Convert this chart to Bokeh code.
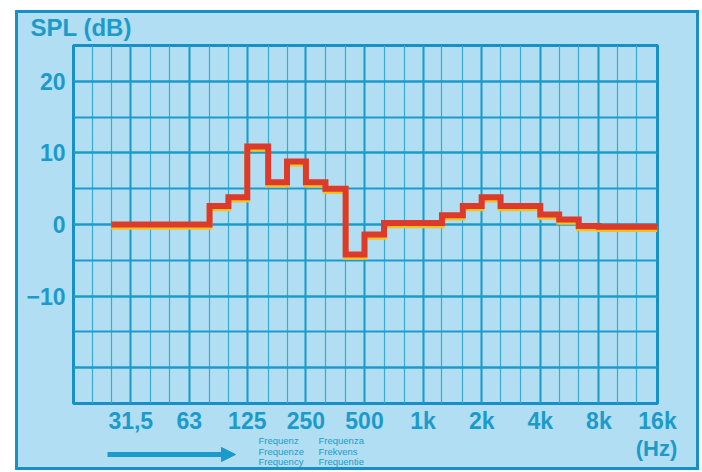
from bokeh.plotting import figure
from bokeh.layouts import column, row
from bokeh.models import FixedTicker, Arrow, NormalHead, Range1d, Spacer
from bokeh.core.properties import value
from bokeh.embed import file_html
from bokeh.resources import INLINE

# third-octave band edges (Hz) and the level of each band (dB)
band_edges_hz = [25, 31.5, 40, 50, 63, 80, 100, 125, 160, 200, 250, 315, 400, 500,
                 630, 800, 1000, 1250, 1600, 2000, 2500, 3150, 4000, 5000, 6300,
                 8000, 10000, 12500, 16000]
band_levels_db = [0.0, 0.0, 0.0, 0.0, 0.0, 2.6, 3.8, 10.9, 5.9, 8.8, 5.9, 5.0, -4.2,
                  -1.4, 0.2, 0.2, 0.2, 1.3, 2.6, 3.8, 2.6, 2.6, 1.4, 0.7, -0.2,
                  -0.3, -0.3, -0.3]

octave_ticks = [31.5, 63, 125, 250, 500, 1000, 2000, 4000, 8000, 16000]
octave_labels = ["31,5", "63", "125", "250", "500", "1k", "2k", "4k", "8k", "16k"]
third_octave_grid = [16, 20, 25, 31.5, 40, 50, 63, 80, 100, 125, 160, 200, 250, 315,
                     400, 500, 630, 800, 1000, 1250, 1600, 2000, 2500, 3150, 4000,
                     5000, 6300, 8000, 10000, 12500, 16000]
y_ticks = [-20, -10, 0, 10, 20]
y_labels = ["", "\u221210", "0", "10", "20"]
y_grid = [-25, -20, -15, -10, -5, 0, 5, 10, 15, 20, 25]

title_text = "SPL (dB)"
unit_text = "(Hz)"
freq_words_1 = ["Frequenz", "Frequenze", "Frequency"]
freq_words_2 = ["Frequenza", "Frekvens", "Frequentie"]

BG = "#b1def2"
BLUE = "#1c9bcb"
MINOR = "#3aa9d4"
DARK = "#1790c6"
FONT = "Liberation Sans"
W = 678


def no_align(fig):
    try:
        fig.frame_align = False
    except Exception:
        pass


def strip(height):
    s = figure(width=W, height=height, x_range=Range1d(0, W),
               y_range=Range1d(height, 0), output_backend="svg",
               toolbar_location=None, x_axis_location=None, y_axis_location=None,
               min_border=0)
    s.background_fill_color = BG
    s.border_fill_color = BG
    s.outline_line_color = None
    s.grid.visible = False
    no_align(s)
    return s


# top strip with the axis title
top = strip(29)
top.text(x=[12], y=[14], text=[title_text], text_color=BLUE, text_font=value(FONT),
         text_font_style="bold", text_font_size="24px", text_baseline="middle",
         text_align="left")

# main chart
p = figure(width=W, height=394, x_axis_type="log",
           x_range=Range1d(16, 16000), y_range=Range1d(-25, 25),
           output_backend="svg", toolbar_location=None,
           min_border_left=55, min_border_right=39, min_border_top=3,
           min_border_bottom=32)
no_align(p)
p.background_fill_color = BG
p.border_fill_color = BG
p.outline_line_color = DARK
p.outline_line_width = 3

p.xaxis.ticker = FixedTicker(ticks=octave_ticks, minor_ticks=third_octave_grid)
p.xaxis.major_label_overrides = {t: l for t, l in zip(octave_ticks, octave_labels)}
p.yaxis.ticker = FixedTicker(ticks=y_ticks, minor_ticks=y_grid)
p.yaxis.major_label_overrides = {t: l for t, l in zip(y_ticks, y_labels)}
for ax in (p.xaxis[0], p.yaxis[0]):
    ax.axis_line_color = None
    ax.major_tick_line_color = None
    ax.minor_tick_line_color = None
    ax.major_tick_out = 0
    ax.major_tick_in = 0
    ax.minor_tick_out = 0
    ax.minor_tick_in = 0
    ax.major_label_text_color = BLUE
    ax.major_label_text_font = FONT
    ax.major_label_text_font_style = "bold"
    ax.major_label_text_font_size = "23px"
p.xaxis.major_label_standoff = 4
p.yaxis.major_label_standoff = 8

p.xgrid.grid_line_color = BLUE
p.xgrid.grid_line_width = 2
p.xgrid.minor_grid_line_color = MINOR
p.xgrid.minor_grid_line_width = 1.2
p.ygrid.grid_line_color = BLUE
p.ygrid.grid_line_width = 2
p.ygrid.minor_grid_line_color = BLUE
p.ygrid.minor_grid_line_width = 2

xs = band_edges_hz
ys = band_levels_db + [band_levels_db[-1]]
p.step(xs, [v - 0.35 for v in ys], mode="after", line_color="#f3c21f",
       line_width=5.5, line_join="miter")
p.step(xs, ys, mode="after", line_color="#dc3a2a", line_width=6,
       line_join="miter")

# bottom strip: unit, multilingual caption and arrow
bot = strip(31)
bot.text(x=[638], y=[12], text=[unit_text], text_color=BLUE, text_font=value(FONT),
         text_font_style="bold", text_font_size="22px", text_baseline="middle",
         text_align="center")
bot.text(x=[240] * 3, y=[4, 14.5, 24.5], text=freq_words_1, text_color=BLUE,
         text_font=value(FONT), text_font_size="9.5px", text_baseline="middle",
         text_align="left")
bot.text(x=[300] * 3, y=[4, 14.5, 24.5], text=freq_words_2, text_color=BLUE,
         text_font=value(FONT), text_font_size="9.5px", text_baseline="middle",
         text_align="left")
bot.add_layout(Arrow(x_start=89, y_start=18, x_end=217, y_end=18,
                     line_color=BLUE, line_width=5,
                     end=NormalHead(size=14, fill_color=BLUE, line_color=BLUE)))

inner = column(top, p, bot, spacing=0,
               styles={"outline": "3px solid " + DARK, "background-color": BG})
layout = column(Spacer(height=13), row(Spacer(width=18), inner, spacing=0), spacing=0)

open("out.html", "w").write(file_html(layout, INLINE))
